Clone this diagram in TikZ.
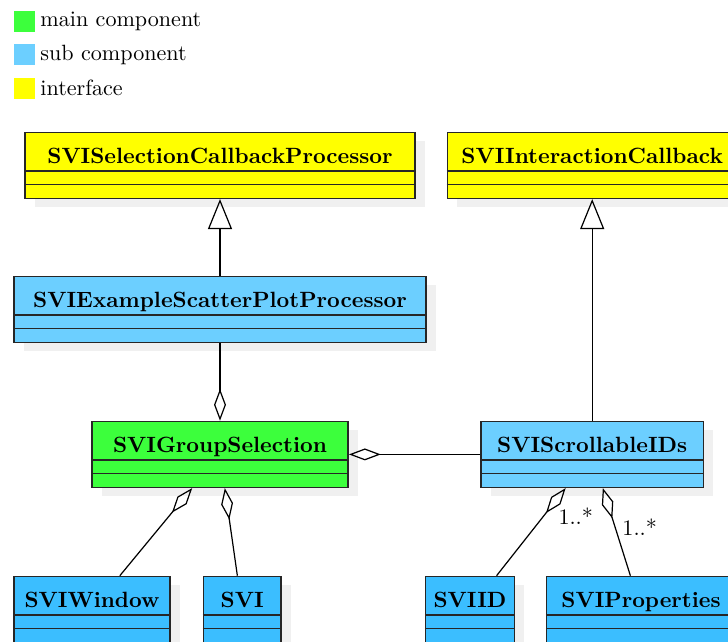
\documentclass[tikz,border=0pt]{standalone}
\usetikzlibrary{shadows,arrows.meta}

\definecolor{maingreen}{RGB}{60,255,60}
\definecolor{subblue}{RGB}{108,207,255}
\definecolor{leafblue}{RGB}{59,190,255}
\definecolor{ifyellow}{RGB}{255,255,0}

\begin{document}
\begin{tikzpicture}[x=0.4525pt, y=-0.4525pt,
    umlclass/.style={draw=black!85, line width=0.7pt, font=\bfseries,
        inner xsep=3pt, inner ysep=3pt, text height=11.2pt, text depth=12.6pt, anchor=north,
        drop shadow={shadow xshift=4.5pt, shadow yshift=-4pt, fill=black!6, opacity=1}},
    compartment/.style={draw=black!85, line width=0.7pt},
    legendbox/.style={minimum size=9.5pt, inner sep=0pt},
    legendtext/.style={anchor=west, inner sep=0pt},
    inherit/.style={-{Triangle[open, width=10.9pt, length=13.6pt]}, line width=0.55pt},
    aggr/.style={-{Diamond[open, width=5.4pt, length=14.4pt]}, line width=0.55pt},
    mult/.style={anchor=west, inner sep=3pt}]
            \useasboundingbox (0,0) rectangle (728,641);
            \clip (0,0) rectangle (728,641);
            % legend
            \node[legendbox, fill=maingreen] (lgmain) at (24.5,21.5) {};
            \node[legendtext] (lgmaintext) at (40,21.5) {main component};
            \node[legendbox, fill=subblue] (lgsub) at (24.5,54.5) {};
            \node[legendtext] (lgsubtext) at (40,54.5) {sub component};
            \node[legendbox, fill=ifyellow] (lgif) at (24.5,88) {};
            \node[legendtext] (lgiftext) at (40,88) {interface};
            % interfaces
            \node[umlclass, fill=ifyellow, minimum width=176.5pt] (selcb) at (220,131.7) {SVISelectionCallbackProcessor};
            \node[umlclass, fill=ifyellow, minimum width=131pt] (intcb) at (592.2,131.7) {SVIInteractionCallback};
            % components
            \node[umlclass, fill=subblue, minimum width=186.4pt] (scatter) at (220,275.7) {SVIExampleScatterPlotProcessor};
            \node[umlclass, fill=maingreen, minimum width=116pt] (group) at (220,420.7) {SVIGroupSelection};
            \node[umlclass, fill=subblue, minimum width=100.6pt] (scroll) at (592.2,420.7) {SVIScrollableIDs};
            \node[umlclass, fill=leafblue, minimum width=70.6pt] (win) at (92,575.7) {SVIWindow};
            \node[umlclass, fill=leafblue, minimum width=35.2pt] (svi) at (242.2,575.7) {SVI};
            \node[umlclass, fill=leafblue, minimum width=40.1pt] (sid) at (470,575.7) {SVIID};
            \node[umlclass, fill=leafblue, minimum width=85.5pt] (props) at (641,575.7) {SVIProperties};
            % attribute and operation compartments
            \foreach \cls in {selcb,intcb,scatter,group,scroll,win,svi,sid,props}
                \draw[compartment] ([yshift=-17.8pt]\cls.north west) -- ([yshift=-17.8pt]\cls.north east)
                    ([yshift=-23.8pt]\cls.north west) -- ([yshift=-23.8pt]\cls.north east);
            % relations
            \draw[inherit] (scatter) -- (selcb);
            \draw[inherit] (scroll) -- (intcb);
            \draw[aggr] (scatter) -- (group);
            \draw[aggr] (scroll) -- (group);
            \draw[aggr] (win) -- (group);
            \draw[aggr] (svi) -- (group);
            \draw[aggr] (sid) -- node[mult, pos=0.68, xshift=3.5pt] {1..*} (scroll);
            \draw[aggr] (props) -- node[mult, pos=0.55] {1..*} (scroll);
        \end{tikzpicture}
\end{document}
